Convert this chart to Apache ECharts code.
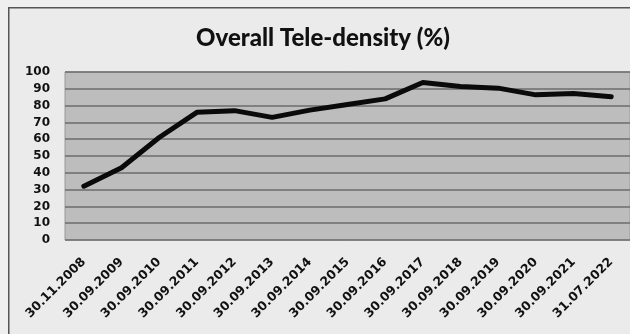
<!DOCTYPE html>
<html>
<head>
<meta charset="utf-8">
<script src="https://cdn.jsdelivr.net/npm/echarts@6/dist/echarts.min.js"></script>
<style>
  html, body { margin: 0; padding: 0; background: #efefef; }
  #chart { width: 630px; height: 334px; }
</style>
</head>
<body>
<div id="chart"></div>
<script>
// Reporting dates (x axis)
const categories = [
  '30.11.2008', '30.09.2009', '30.09.2010', '30.09.2011', '30.09.2012',
  '30.09.2013', '30.09.2014', '30.09.2015', '30.09.2016', '30.09.2017',
  '30.09.2018', '30.09.2019', '30.09.2020', '30.09.2021', '31.07.2022'
];
// Overall tele-density, percent
const teleDensity = [32, 43, 61, 76, 77, 73, 77.3, 80.6, 84, 93.8, 91.4, 90.4, 86.4, 87.2, 85.3];
// Y axis ticks
const yTicks = [0, 10, 20, 30, 40, 50, 60, 70, 80, 90, 100];

const chart = echarts.init(document.getElementById('chart'), null, { renderer: 'canvas' });

chart.setOption({
  backgroundColor: '#efefef',
  animation: false,
  graphic: [{
    type: 'rect',
    left: 8, top: 7,
    shape: { width: 640, height: 340 },
    style: { fill: '#ebebeb', stroke: '#555555', lineWidth: 1.5 },
    z: -10
  }],
  title: {
    text: 'Overall Tele-density (%)',
    left: 318, top: 21, textAlign: 'center',
    textStyle: { fontFamily: 'Lato', fontWeight: 900, fontSize: 24, color: '#111111' }
  },
  grid: {
    left: 65, top: 72, right: 0, bottom: 94,
    show: true, backgroundColor: '#bdbdbd', borderColor: '#9a9a9a', borderWidth: 1
  },
  xAxis: {
    type: 'category',
    data: categories,
    boundaryGap: true,
    axisLine: { show: false },
    axisTick: { show: false },
    axisLabel: {
      rotate: 45, interval: 0, margin: 20,
      fontFamily: 'DejaVu Sans', fontWeight: 'bold', fontSize: 12.5, color: '#111111'
    }
  },
  yAxis: {
    type: 'value',
    min: yTicks[0], max: yTicks[yTicks.length - 1], interval: 10,
    axisLine: { show: false },
    axisTick: { show: false },
    axisLabel: {
      margin: 15,
      fontFamily: 'DejaVu Sans', fontWeight: 'bold', fontSize: 12, color: '#111111'
    },
    splitLine: { lineStyle: { color: '#6c6c6c', width: 1.5 } }
  },
  series: [{
    type: 'line',
    data: teleDensity,
    symbol: 'none',
    smooth: false,
    lineStyle: { color: '#0a0a0a', width: 5, join: 'round', cap: 'round' }
  }]
});
</script>
</body>
</html>
